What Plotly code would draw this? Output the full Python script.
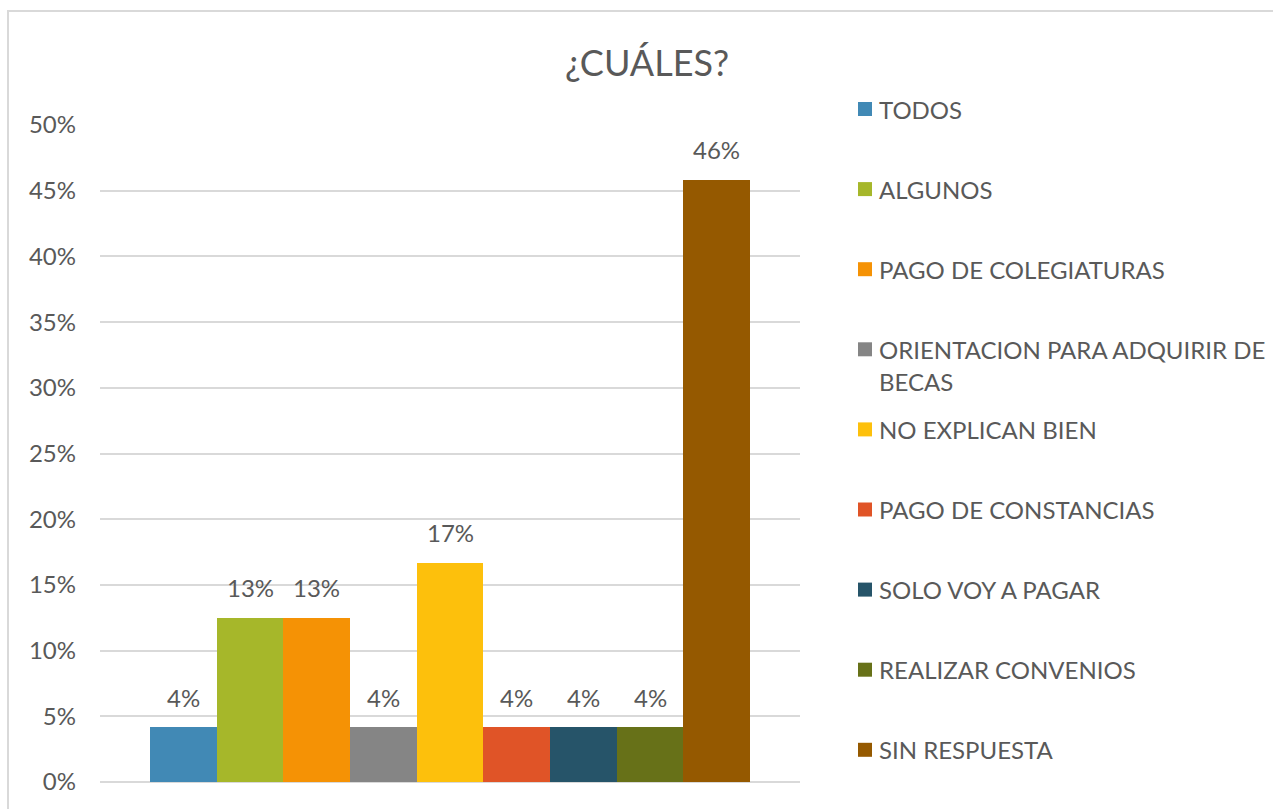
import plotly.graph_objects as go

# Responses and their share of answers
categories = [
    "TODOS",
    "ALGUNOS",
    "PAGO DE COLEGIATURAS",
    "ORIENTACION PARA ADQUIRIR DE BECAS",
    "NO EXPLICAN BIEN",
    "PAGO DE CONSTANCIAS",
    "SOLO VOY A PAGAR",
    "REALIZAR CONVENIOS",
    "SIN RESPUESTA",
]
values = [0.0417, 0.125, 0.125, 0.0417, 0.1667, 0.0417, 0.0417, 0.0417, 0.4583]
colors = ["#4189b5", "#a6b72a", "#f59205", "#858585", "#fdc00c",
          "#e05427", "#265469", "#677118", "#955900"]
y_ticks = [0, 0.05, 0.10, 0.15, 0.20, 0.25, 0.30, 0.35, 0.40, 0.45, 0.50]

W, H = 1273, 809
FONT = "Lato"
GREY_TEXT = "#595959"
GRID = "#d9d9d9"


def px_x(px):
    return px / W


def px_y(py):
    return 1 - py / H


def pct_label(v):
    return f"{int(v * 100 + 0.5)}%"


fig = go.Figure()
fig.add_trace(go.Bar(
    x=categories,
    y=values,
    marker=dict(color=colors, line=dict(width=0)),
    width=1.0,
    showlegend=False,
    hoverinfo="x+y",
))

annotations = []
# Value labels above each bar
for cat, v in zip(categories, values):
    annotations.append(dict(
        x=cat, y=v, xref="x", yref="y", text=pct_label(v),
        showarrow=False, yanchor="middle", yshift=30,
        font=dict(family=FONT, size=24, color=GREY_TEXT),
    ))

# Title
annotations.append(dict(
    x=px_x(647), y=px_y(62), xref="paper", yref="paper", text="¿CUÁLES?",
    showarrow=False, xanchor="center", yanchor="middle",
    font=dict(family=FONT, size=36, color=GREY_TEXT),
))

# Legend on the right: swatch + label, long labels wrapped
shapes = []
legend_top = 109
legend_step = 80.1
max_chars = 28
for i, (name, col) in enumerate(zip(categories, colors)):
    yc = legend_top + i * legend_step
    shapes.append(dict(
        type="rect", xref="paper", yref="paper",
        x0=px_x(858), x1=px_x(872), y0=px_y(yc + 7), y1=px_y(yc - 7),
        fillcolor=col, line=dict(width=0),
    ))
    words = name.split()
    lines, cur = [], ""
    for w in words:
        cand = (cur + " " + w).strip()
        if len(cand) > max_chars and cur:
            lines.append(cur)
            cur = w
        else:
            cur = cand
    lines.append(cur)
    for j, line in enumerate(lines):
        annotations.append(dict(
            x=px_x(877), y=px_y(yc + j * 32), xref="paper", yref="paper",
            text=line, showarrow=False, xanchor="left", yanchor="middle",
            font=dict(family=FONT, size=24, color=GREY_TEXT),
        ))

# Outer chart frame
shapes.append(dict(
    type="rect", xref="paper", yref="paper",
    x0=px_x(8), x1=1.05, y0=-0.05, y1=px_y(11),
    line=dict(color=GRID, width=2), fillcolor="rgba(0,0,0,0)", layer="below",
))

fig.update_layout(
    width=W, height=H, autosize=False,
    margin=dict(l=0, r=0, t=0, b=0, autoexpand=False),
    paper_bgcolor="white", plot_bgcolor="white",
    bargap=0,
    xaxis=dict(
        domain=[px_x(100), px_x(800)],
        range=[-1.25, 9.25],
        showticklabels=False, showgrid=False, zeroline=False,
        showline=False, ticks="", automargin=False,
    ),
    yaxis=dict(
        domain=[px_y(782), px_y(125)],
        range=[0, 0.5],
        tickvals=y_ticks, tickformat=".0%",
        showgrid=True, gridcolor=GRID, gridwidth=2,
        zeroline=True, zerolinecolor=GRID, zerolinewidth=2,
        showline=False, ticks="", automargin=False,
        ticklabelstandoff=23,
        tickfont=dict(family=FONT, size=24, color=GREY_TEXT),
    ),
    annotations=annotations,
    shapes=shapes,
    font=dict(family=FONT, color=GREY_TEXT),
)

fig.write_html("out.html")
